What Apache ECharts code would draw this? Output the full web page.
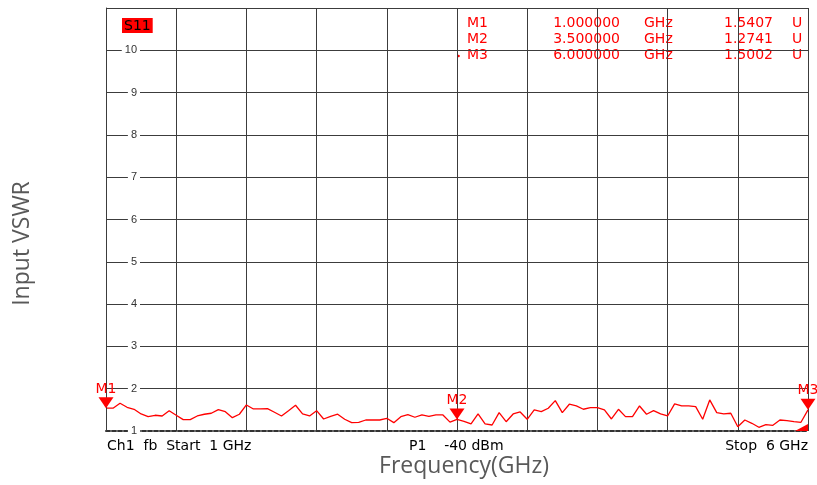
<!DOCTYPE html>
<html>
<head>
<meta charset="utf-8">
<script src="https://cdn.jsdelivr.net/npm/echarts@6/dist/echarts.min.js"></script>
<style>
  html, body { margin: 0; padding: 0; background: #fff; }
  #main { width: 817px; height: 485px; }
</style>
</head>
<body>
<div id="main"></div>
<script>
// sweep setup of the analyser (x axis)
const sweepStartGHz = 1;
const sweepStopGHz = 6;
const sweepStepGHz = 0.05;

// S11 trace, one value per sweep point (101 points)
const vswr = [
  1.5407, 1.54, 1.656, 1.56, 1.514, 1.403, 1.339, 1.372, 1.355, 1.48,
  1.372, 1.268, 1.268, 1.355, 1.396, 1.42, 1.505, 1.457, 1.315, 1.396,
  1.616, 1.521, 1.521, 1.528, 1.443, 1.355, 1.48, 1.609, 1.403, 1.355,
  1.48, 1.284, 1.348, 1.396, 1.277, 1.197, 1.206, 1.26, 1.26, 1.26,
  1.30, 1.197, 1.339, 1.386, 1.325, 1.379, 1.348, 1.379, 1.379, 1.21,
  1.2741, 1.23, 1.166, 1.403, 1.166, 1.142, 1.434, 1.22, 1.403, 1.45,
  1.277, 1.498, 1.457, 1.538, 1.718, 1.434, 1.633, 1.592, 1.514, 1.552,
  1.552, 1.498, 1.284, 1.514, 1.339, 1.339, 1.592, 1.396, 1.48, 1.403,
  1.355, 1.64, 1.592, 1.592, 1.576, 1.277, 1.735, 1.434, 1.403, 1.42,
  1.10, 1.26, 1.182, 1.088, 1.149, 1.135, 1.26, 1.244, 1.22, 1.206,
  1.5002
];

// marker readout
const markerNames = ['M1', 'M2', 'M3'];
const markerFreqs = [1.0, 3.5, 6.0];
const markerValues = [1.5407, 1.2741, 1.5002];

// y axis range (VSWR units)
const yMin = 1;
const yMax = 11;
const yStep = 1;

const traceData = vswr.map((v, i) => [sweepStartGHz + i * sweepStepGHz, v]);

const red = '#ff0000';
const gridColor = '#3c3c3c';
const screenFont = 'DejaVu Sans, Verdana, sans-serif';

// marker readout table (top right)
const readout = [];
markerNames.forEach((name, i) => {
  const y = 24 + i * 16;
  const st = { fill: red, fontSize: 14, fontFamily: screenFont };
  readout.push({ type: 'text', left: 467, top: y - 8, style: Object.assign({ text: name }, st) });
  readout.push({ type: 'text', right: 817 - 620, top: y - 8, style: Object.assign({ text: markerFreqs[i].toFixed(6), textAlign: 'right' }, st) });
  readout.push({ type: 'text', left: 644, top: y - 8, style: Object.assign({ text: 'GHz' }, st) });
  readout.push({ type: 'text', right: 817 - 773, top: y - 8, style: Object.assign({ text: markerValues[i].toFixed(4), textAlign: 'right' }, st) });
  readout.push({ type: 'text', left: 792, top: y - 8, style: Object.assign({ text: 'U' }, st) });
});

const chart = echarts.init(document.getElementById('main'));
chart.setOption({
  animation: false,
  backgroundColor: '#fff',
  grid: { left: 106, right: 9, top: 8, bottom: 54 },
  xAxis: {
    type: 'value',
    min: sweepStartGHz,
    max: sweepStopGHz,
    interval: 0.5,
    name: 'Frequency(GHz)',
    nameLocation: 'middle',
    nameGap: 24,
    nameTextStyle: { fontSize: 23, color: '#595959', fontFamily: 'Open Sans', padding: [0, 0, 0, 14] },
    axisLine: { show: true, onZero: false, lineStyle: { color: '#333', width: 2, type: [4, 2] } },
    axisTick: { show: false },
    axisLabel: { show: false },
    splitLine: { show: true, showMinLine: false, lineStyle: { color: gridColor, width: 1 } }
  },
  yAxis: {
    type: 'value',
    min: yMin,
    max: yMax,
    interval: yStep,
    z: 3,
    name: 'Input VSWR',
    nameLocation: 'middle',
    nameGap: 72,
    nameTextStyle: { fontSize: 23, color: '#595959', fontFamily: 'Open Sans', padding: [0, 48, 0, 0] },
    axisLine: { show: true, lineStyle: { color: gridColor, width: 1 } },
    axisTick: { show: false },
    axisLabel: {
      inside: true,
      margin: 34,
      align: 'right',
      showMaxLabel: false,
      fontSize: 11,
      color: '#333',
      fontFamily: 'Liberation Sans, Arial, sans-serif',
      backgroundColor: '#fff',
      padding: [1, 3, 1, 3],
      formatter: v => (v >= yMax ? '' : String(v))
    },
    splitLine: { show: true, showMinLine: false, lineStyle: { color: gridColor, width: 1 } }
  },
  series: [{
    type: 'line',
    data: traceData,
    showSymbol: false,
    lineStyle: { color: red, width: 1.3 },
    itemStyle: { color: red },
    z: 2,
    markPoint: {
      symbol: 'triangle',
      symbolRotate: 180,
      symbolSize: [15, 11],
      symbolOffset: [0, -5.5],
      itemStyle: { color: red },
      label: {
        show: true,
        position: 'top',
        distance: 1,
        color: red,
        fontSize: 14,
        fontFamily: screenFont,
        formatter: p => p.name
      },
      data: markerNames.map((n, i) => ({ name: n, coord: [markerFreqs[i], markerValues[i]] })).concat([{
        name: 'ref',
        coord: [sweepStopGHz, yMin],
        symbol: 'path://M0,10 L14,10 L14,0 Z',
        symbolRotate: 0,
        symbolSize: [13, 7],
        symbolOffset: [-6.5, -3.5],
        label: { show: false }
      }])
    }
  }],
  graphic: [
    {
      type: 'text', left: 122, top: 18,
      style: {
        text: 'S11', fill: '#000', fontSize: 14, fontFamily: screenFont,
        backgroundColor: red, padding: [1, 2, 0, 2]
      }
    },
    { type: 'circle', shape: { cx: 458.5, cy: 56, r: 1.3 }, style: { fill: red } },
    { type: 'text', left: 107, top: 439, style: { text: 'Ch1  fb  Start  1 GHz', fill: '#000', fontSize: 14, fontFamily: screenFont } },
    { type: 'text', left: 409, top: 439, style: { text: 'P1    -40 dBm', fill: '#000', fontSize: 14, fontFamily: screenFont } },
    { type: 'text', right: 9, top: 439, style: { text: 'Stop  6 GHz', fill: '#000', fontSize: 14, fontFamily: screenFont, textAlign: 'right' } }
  ].concat(readout)
});
</script>
</body>
</html>
